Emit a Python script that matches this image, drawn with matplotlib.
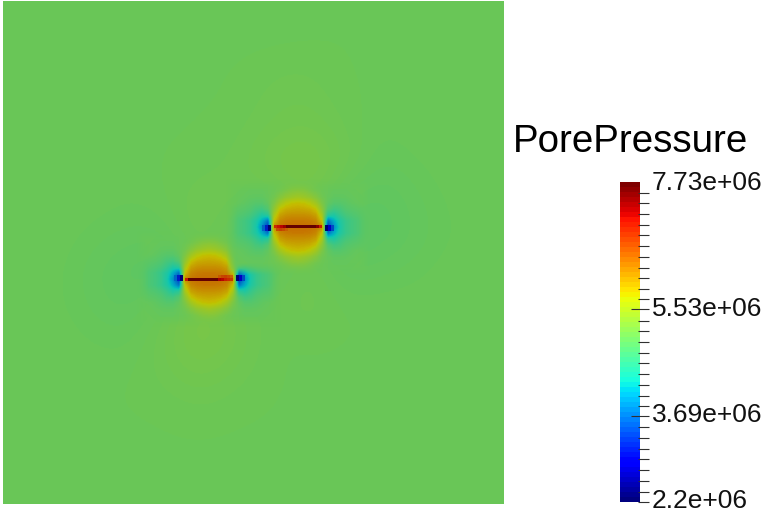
import numpy as np
import matplotlib
matplotlib.use('Agg')
import matplotlib.pyplot as plt
from matplotlib.colors import ListedColormap

# all pressures in units of 1e6 Pa
vmin = 2.2
vmax = 7.73

# far field, one row per 36 px going down the square
far_field = [
    [5.05, 5.05, 5.05, 5.05, 5.04, 5.04, 5.03, 5.03, 5.04, 5.05, 5.05, 5.05, 5.05, 5.05],
    [5.05, 5.05, 5.05, 5.05, 5.05, 5.05, 5.05, 5.06, 5.06, 5.05, 5.05, 5.05, 5.05, 5.05],
    [5.05, 5.05, 5.05, 5.05, 5.05, 5.05, 5.05, 5.08, 5.09, 5.05, 5.05, 5.05, 5.05, 5.05],
    [5.05, 5.05, 5.05, 5.05, 5.05, 5.05, 5.06, 5.10, 5.12, 5.07, 5.03, 5.05, 5.05, 5.05],
    [5.05, 5.05, 5.05, 5.05, 5.05, 5.06, 5.08, 5.15, 5.20, 5.10, 5.00, 5.03, 5.05, 5.05],
    [5.05, 5.05, 5.05, 5.03, 5.05, 5.10, 5.08, 5.05, 5.15, 4.98, 4.95, 5.00, 5.04, 5.05],
    [5.05, 5.05, 5.02, 5.00, 5.00, 5.12, 5.00, 4.95, 5.05, 4.92, 4.94, 4.99, 5.03, 5.05],
    [5.05, 5.04, 4.99, 4.95, 4.92, 5.05, 4.97, 5.00, 5.10, 4.98, 5.00, 5.02, 5.05, 5.05],
    [5.05, 5.04, 5.00, 4.97, 5.05, 5.20, 5.10, 5.05, 5.10, 5.05, 5.05, 5.05, 5.05, 5.05],
    [5.05, 5.05, 5.03, 5.02, 5.10, 5.20, 5.12, 5.05, 5.05, 5.05, 5.05, 5.05, 5.05, 5.05],
    [5.05, 5.05, 5.05, 5.05, 5.08, 5.12, 5.08, 5.05, 5.05, 5.05, 5.05, 5.05, 5.05, 5.05],
    [5.05, 5.05, 5.05, 5.05, 5.05, 5.06, 5.05, 5.05, 5.05, 5.05, 5.05, 5.05, 5.05, 5.05],
    [5.05, 5.05, 5.05, 5.05, 5.05, 5.05, 5.05, 5.05, 5.05, 5.05, 5.05, 5.05, 5.05, 5.05],
    [5.05, 5.05, 5.05, 5.05, 5.04, 5.03, 5.03, 5.04, 5.05, 5.05, 5.05, 5.05, 5.05, 5.05],
]

# one quarter of the halo round a crack: rows 6 px apart going out from the crack,
# columns 6 px apart going out from its middle
halo_quarter = [
    [6.40, 6.40, 6.38, 6.35, 6.20, 3.30, 3.90, 4.35, 4.60, 4.72, 4.80, 4.88, 4.95],
    [6.32, 6.32, 6.30, 6.22, 5.80, 3.70, 4.10, 4.40, 4.60, 4.72, 4.80, 4.88, 4.95],
    [6.15, 6.15, 6.12, 6.02, 5.55, 4.50, 4.40, 4.60, 4.75, 4.82, 4.87, 4.92, 4.97],
    [5.98, 5.96, 5.92, 5.78, 5.35, 4.85, 4.70, 4.75, 4.85, 4.90, 4.93, 4.96, 5.00],
    [5.80, 5.78, 5.68, 5.50, 5.20, 4.98, 4.88, 4.88, 4.92, 4.97, 5.00, 5.02, 5.03],
    [5.50, 5.45, 5.38, 5.25, 5.10, 5.02, 4.97, 4.97, 4.98, 5.00, 5.02, 5.03, 5.05],
    [5.30, 5.28, 5.20, 5.12, 5.06, 5.03, 5.00, 5.00, 5.00, 5.02, 5.03, 5.04, 5.05],
    [5.20, 5.18, 5.14, 5.08, 5.05, 5.03, 5.02, 5.02, 5.02, 5.03, 5.04, 5.05, 5.05],
    [5.12, 5.10, 5.08, 5.06, 5.05, 5.05, 5.05, 5.05, 5.05, 5.05, 5.05, 5.05, 5.05],
]

# cracks themselves, 3 px cells from left to right
lower_crack = [7.00, 7.73, 7.73, 7.73, 7.73, 7.73, 7.73, 7.73, 7.73, 7.73, 7.73, 7.30, 7.20, 7.00, 6.90, 6.80]
upper_crack = [6.90, 7.10, 7.20, 7.40, 7.73, 7.73, 7.73, 7.73, 7.73, 7.73, 7.73, 7.73, 7.73, 7.73, 7.50, 7.00]
lower_hot = [6.55, 6.70, 6.75, 6.65, 6.50]
upper_hot = [6.65, 6.75, 6.65, 6.50]

# blue spots at the crack ends, 2 rows of 3 px cells
left_tip = [[3.60, 3.10, 2.30], [3.60, 3.10, 2.30]]
right_tip = [[2.30, 2.80, 3.40], [2.30, 2.80, 3.40]]

title = 'PorePressure'
bar_major = [3.69, 5.53]
bar_minor = [2.20, 2.38, 2.57, 2.75, 2.94, 3.12, 3.31, 3.49, 3.86, 4.04, 4.23, 4.41, 4.60, 4.78,
             4.96, 5.15, 5.33, 5.70, 5.88, 6.07, 6.25, 6.44, 6.62, 6.81, 6.99, 7.18, 7.36, 7.54]
bar_labels = ['7.73e+06', '5.53e+06', '3.69e+06', '2.2e+06']
bar_label_y = [182.5, 308.5, 414.5, 500.5]

W, H = 773, 513
plt.rcParams['font.family'] = 'Liberation Sans'

jet = plt.get_cmap('jet', 64)
# the surface is lit, so it looks darker than the colour bar
field_colors = plt.get_cmap('jet')(np.linspace(0, 1, 256))
field_colors[:, :3] *= 0.78
field_cmap = ListedColormap(field_colors)


def px_axes(fig, x0, y0, x1, y1):
    # axes from pixel edges, y counted from the top of the picture
    return fig.add_axes([x0 / W, 1 - y1 / H, (x1 - x0) / W, (y1 - y0) / H])


def draw_cells(ax, values, x0, y0, cell, interpolation='nearest', alpha=None):
    values = np.atleast_2d(values)
    rows, cols = values.shape
    ax.imshow(values, extent=(x0, x0 + cols * cell, y0 + rows * cell, y0), cmap=field_cmap,
              vmin=vmin, vmax=vmax, interpolation=interpolation, alpha=alpha, aspect='auto')


fig = plt.figure(figsize=(W / 100, H / 100), dpi=100)

# the square with the field, axes use picture pixels
ax = px_axes(fig, 3, 1, 504, 504)
draw_cells(ax, far_field, 3, 1, 503 / 14, 'bicubic')

half = np.array(halo_quarter)
right_half = np.vstack([half[:0:-1], half])
halo = np.hstack([right_half[:, :0:-1], right_half])
fade = np.ones(halo.shape)
fade[[0, -1], :] = 0
fade[:, [0, -1]] = 0
fade[[1, -2], 1:-1] = 0.5
fade[1:-1, [1, -2]] = 0.5

for cx, cy in [(209, 279.5), (298, 227)]:
    draw_cells(ax, halo, cx - 75, cy - 51, 6, 'bilinear', fade)

draw_cells(ax, lower_crack, 185, 278, 3)
draw_cells(ax, upper_crack, 274, 225.3, 3)
draw_cells(ax, lower_hot, 218, 275, 3)
draw_cells(ax, upper_hot, 276, 228.3, 3)
draw_cells(ax, left_tip, 174.5, 275, 3)
draw_cells(ax, right_tip, 236, 275, 3)
draw_cells(ax, left_tip, 262.5, 225, 3)
draw_cells(ax, right_tip, 325, 225, 3)

ax.set_xlim(3, 504)
ax.set_ylim(504, 1)
ax.axis('off')

fig.text(513 / W, 1 - 142 / H, title, fontsize=27.7, color='black', va='center', ha='left')

# colour bar, the axes reach over to the end of the ticks
cax = px_axes(fig, 620, 182, 649, 502)
gradient = np.linspace(0, 1, 64)[::-1].reshape(-1, 1)
cax.imshow(gradient, cmap=jet, extent=(620, 640, vmin, vmax), aspect='auto', interpolation='nearest')
cax.set_xlim(620, 649)
cax.set_ylim(vmin, vmax)
cax.set_xticks([])
for spine in cax.spines.values():
    spine.set_visible(False)
cax.yaxis.tick_right()
cax.set_yticks(bar_major)
cax.set_yticks(bar_minor, minor=True)
cax.set_yticklabels([])
cax.tick_params(axis='y', which='major', direction='in', length=13, width=0.8, color='#303030')
cax.tick_params(axis='y', which='minor', direction='in', length=8, width=0.8, color='#303030')

for label, y in zip(bar_labels, bar_label_y):
    fig.text(652 / W, 1 - y / H, label, fontsize=19, color='#111111', va='center', ha='left')

fig.savefig('out.png', dpi=100)
